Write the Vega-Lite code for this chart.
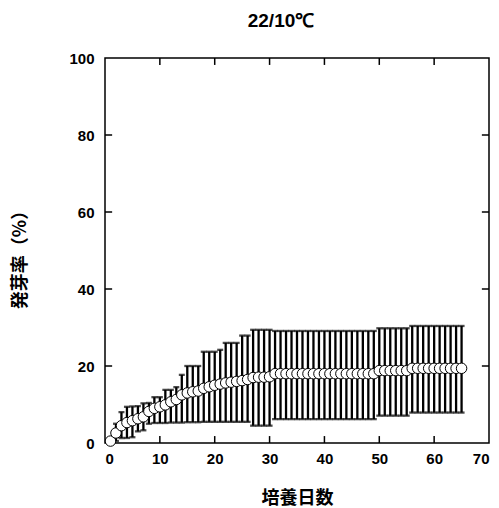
{
  "$schema": "https://vega.github.io/schema/vega-lite/v6.json",
  "autosize": {"type": "none"},
  "width": 384,
  "height": 385,
  "padding": {"left": 105, "top": 58, "right": 10, "bottom": 65},
  "background": "white",
  "title": {"text": "22/10℃", "font": "Liberation Sans", "fontSize": 19, "fontWeight": "bold", "color": "black", "anchor": "middle", "dx": -16, "offset": 20},
  "config": {
    "view": {"stroke": "black", "strokeWidth": 1.5},
    "axis": {"domain": false, "ticks": false, "grid": false, "labelColor": "black", "titleColor": "black", "labelFont": "Liberation Sans", "labelFontSize": 15, "labelFontWeight": "bold", "titleFont": "Noto Sans CJK JP", "titleFontSize": 18, "titleFontWeight": "bold"}
  },
  "datasets": {
    "xticks": [{"t": 10}, {"t": 20}, {"t": 30}, {"t": 40}, {"t": 50}, {"t": 60}],
    "yticks": [{"v": 20}, {"v": 40}, {"v": 60}, {"v": 80}]
  },
  "data": {"values": [
    {"day": 1, "m": 0.5, "lo": 0, "hi": 1},
    {"day": 2, "m": 2.6, "lo": 0.5, "hi": 5},
    {"day": 3, "m": 4.5, "lo": 1.3, "hi": 8.0},
    {"day": 4, "m": 5.3, "lo": 1.3, "hi": 9.4},
    {"day": 5, "m": 5.8, "lo": 1.5, "hi": 9.5},
    {"day": 6, "m": 6.3, "lo": 3.0, "hi": 9.6},
    {"day": 7, "m": 6.8, "lo": 3.3, "hi": 10.3},
    {"day": 8, "m": 8.2, "lo": 5.0, "hi": 10.4},
    {"day": 9, "m": 9.0, "lo": 5.2, "hi": 11.9},
    {"day": 10, "m": 9.4, "lo": 5.2, "hi": 11.9},
    {"day": 11, "m": 9.9, "lo": 5.2, "hi": 13.8},
    {"day": 12, "m": 10.7, "lo": 5.3, "hi": 13.8},
    {"day": 13, "m": 11.3, "lo": 5.3, "hi": 14.5},
    {"day": 14, "m": 12.5, "lo": 5.3, "hi": 17.7},
    {"day": 15, "m": 13.0, "lo": 5.4, "hi": 20},
    {"day": 16, "m": 13.3, "lo": 5.4, "hi": 20},
    {"day": 17, "m": 13.5, "lo": 5.4, "hi": 20},
    {"day": 18, "m": 14.2, "lo": 5.5, "hi": 23.7},
    {"day": 19, "m": 14.6, "lo": 5.5, "hi": 23.7},
    {"day": 20, "m": 15.0, "lo": 5.5, "hi": 23.7},
    {"day": 21, "m": 15.3, "lo": 5.5, "hi": 24.2},
    {"day": 22, "m": 15.6, "lo": 5.5, "hi": 26},
    {"day": 23, "m": 15.8, "lo": 5.5, "hi": 26},
    {"day": 24, "m": 16.0, "lo": 5.5, "hi": 26},
    {"day": 25, "m": 16.2, "lo": 5.5, "hi": 27.9},
    {"day": 26, "m": 16.5, "lo": 5.5, "hi": 27.9},
    {"day": 27, "m": 17.0, "lo": 4.5, "hi": 29.4},
    {"day": 28, "m": 17.1, "lo": 4.5, "hi": 29.4},
    {"day": 29, "m": 17.1, "lo": 4.5, "hi": 29.4},
    {"day": 30, "m": 17.2, "lo": 4.5, "hi": 29.4},
    {"day": 31, "m": 18.0, "lo": 6.2, "hi": 29.1},
    {"day": 32, "m": 18.0, "lo": 6.2, "hi": 29.1},
    {"day": 33, "m": 18.0, "lo": 6.2, "hi": 29.1},
    {"day": 34, "m": 18.0, "lo": 6.2, "hi": 29.1},
    {"day": 35, "m": 18.0, "lo": 6.2, "hi": 29.1},
    {"day": 36, "m": 18.0, "lo": 6.2, "hi": 29.1},
    {"day": 37, "m": 18.0, "lo": 6.2, "hi": 29.1},
    {"day": 38, "m": 18.0, "lo": 6.2, "hi": 29.1},
    {"day": 39, "m": 18.0, "lo": 6.2, "hi": 29.1},
    {"day": 40, "m": 18.0, "lo": 6.2, "hi": 29.1},
    {"day": 41, "m": 18.0, "lo": 6.2, "hi": 29.1},
    {"day": 42, "m": 18.0, "lo": 6.2, "hi": 29.1},
    {"day": 43, "m": 18.0, "lo": 6.2, "hi": 29.1},
    {"day": 44, "m": 18.0, "lo": 6.2, "hi": 29.1},
    {"day": 45, "m": 18.0, "lo": 6.2, "hi": 29.1},
    {"day": 46, "m": 18.0, "lo": 6.2, "hi": 29.1},
    {"day": 47, "m": 18.0, "lo": 6.2, "hi": 29.1},
    {"day": 48, "m": 18.0, "lo": 6.2, "hi": 29.1},
    {"day": 49, "m": 18.0, "lo": 6.2, "hi": 29.1},
    {"day": 50, "m": 18.8, "lo": 7.1, "hi": 29.8},
    {"day": 51, "m": 18.8, "lo": 7.1, "hi": 29.8},
    {"day": 52, "m": 18.8, "lo": 7.1, "hi": 29.8},
    {"day": 53, "m": 18.8, "lo": 7.1, "hi": 29.8},
    {"day": 54, "m": 18.8, "lo": 7.1, "hi": 29.8},
    {"day": 55, "m": 18.8, "lo": 7.1, "hi": 29.8},
    {"day": 56, "m": 19.4, "lo": 7.9, "hi": 30.4},
    {"day": 57, "m": 19.4, "lo": 7.9, "hi": 30.4},
    {"day": 58, "m": 19.4, "lo": 7.9, "hi": 30.4},
    {"day": 59, "m": 19.4, "lo": 7.9, "hi": 30.4},
    {"day": 60, "m": 19.4, "lo": 7.9, "hi": 30.4},
    {"day": 61, "m": 19.4, "lo": 7.9, "hi": 30.4},
    {"day": 62, "m": 19.4, "lo": 7.9, "hi": 30.4},
    {"day": 63, "m": 19.4, "lo": 7.9, "hi": 30.4},
    {"day": 64, "m": 19.4, "lo": 7.9, "hi": 30.4},
    {"day": 65, "m": 19.4, "lo": 7.9, "hi": 30.4}
  ]},
  "layer": [
    {
      "mark": {"type": "rule", "color": "black", "strokeWidth": 2.3},
      "encoding": {
        "x": {"field": "day", "type": "quantitative", "scale": {"domain": [0, 70]},
          "axis": {"orient": "bottom", "values": [0, 10, 20, 30, 40, 50, 60, 70], "labelPadding": 8, "title": "培養日数", "titlePadding": 23}},
        "y": {"field": "lo", "type": "quantitative", "scale": {"domain": [0, 100]},
          "axis": {"orient": "left", "values": [0, 20, 40, 60, 80, 100], "labelPadding": 11, "title": "発芽率（%）", "titleX": -85, "titleY": 197, "titleAngle": -90, "titleAlign": "center", "titleBaseline": "middle"}},
        "y2": {"field": "hi"}
      }
    },
    {
      "mark": {"type": "tick", "color": "black", "orient": "horizontal", "size": 6, "thickness": 2.3},
      "encoding": {
        "x": {"field": "day", "type": "quantitative"},
        "y": {"field": "hi", "type": "quantitative"}
      }
    },
    {
      "mark": {"type": "tick", "color": "black", "orient": "horizontal", "size": 6, "thickness": 2.3},
      "encoding": {
        "x": {"field": "day", "type": "quantitative"},
        "y": {"field": "lo", "type": "quantitative"}
      }
    },
    {
      "mark": {"type": "point", "shape": "circle", "filled": true, "fill": "white", "stroke": "black", "strokeWidth": 1, "size": 110, "opacity": 1},
      "encoding": {
        "x": {"field": "day", "type": "quantitative"},
        "y": {"field": "m", "type": "quantitative"}
      }
    },
    {
      "data": {"name": "xticks"},
      "mark": {"type": "rule", "color": "black", "strokeWidth": 1.5},
      "encoding": {
        "x": {"field": "t", "type": "quantitative"},
        "y": {"datum": 0, "type": "quantitative"},
        "y2": {"datum": 1.8}
      }
    },
    {
      "data": {"name": "xticks"},
      "mark": {"type": "rule", "color": "black", "strokeWidth": 1.5},
      "encoding": {
        "x": {"field": "t", "type": "quantitative"},
        "y": {"datum": 98.2, "type": "quantitative"},
        "y2": {"datum": 100}
      }
    },
    {
      "data": {"name": "yticks"},
      "mark": {"type": "rule", "color": "black", "strokeWidth": 1.5},
      "encoding": {
        "y": {"field": "v", "type": "quantitative"},
        "x": {"datum": 0, "type": "quantitative"},
        "x2": {"datum": 1.3}
      }
    },
    {
      "data": {"name": "yticks"},
      "mark": {"type": "rule", "color": "black", "strokeWidth": 1.5},
      "encoding": {
        "y": {"field": "v", "type": "quantitative"},
        "x": {"datum": 68.7, "type": "quantitative"},
        "x2": {"datum": 70}
      }
    }
  ]
}
